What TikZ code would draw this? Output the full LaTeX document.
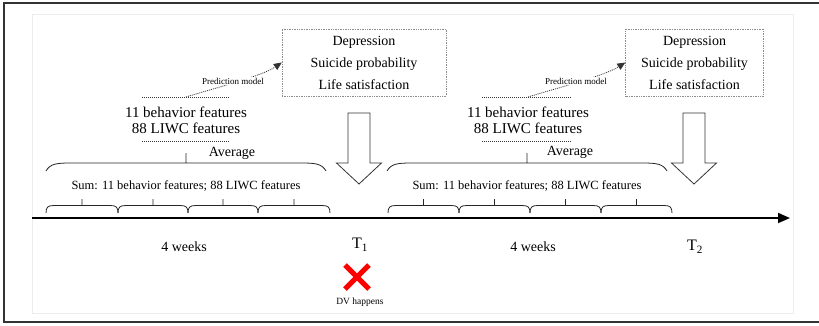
\documentclass[tikz,border=0pt]{standalone}
\usepackage{fontspec}
\setmainfont{Liberation Serif}
\usetikzlibrary{shapes.misc,arrows.meta}
\begin{document}
\begin{tikzpicture}[x=1pt,y=-1pt,
  brc/.style={black!85, line width=0.8pt},
  dots/.style={dash pattern=on 1pt off 1pt, black!80, line width=0.8pt},
  outbox/.style={draw, dash pattern=on 0.8pt off 0.9pt, black!45, text=black, align=center,
    minimum height=67pt, font=\fontsize{14}{22}\selectfont},
  feat/.style={align=center, font=\fontsize{15}{16}\selectfont}]
\useasboundingbox (0,0) rectangle (819,325);
\draw[line width=1.5pt, black!80] (819,3) -- (4,3) -- (4,322) -- (819,322);
\draw[black!7] (32,14) rectangle (793,313);
\coordinate (t0) at (32,218);
\coordinate (t9) at (790,218);
\draw[line width=1.8pt, -{Triangle[length=12pt,width=10pt]}] (t0) -- (t9);
\foreach \a/\b in {46/118,118/188,188/258,258/330,388/459,459/530,530/601,601/672}
  \draw[brc] (\a,213) .. controls (\a,207) and (\a+2,205.5) .. (\a+8,205.5) -- (\b-8,205.5)
    .. controls (\b-2,205.5) and (\b,207) .. (\b,213)
    (\a/2+\b/2,205.5) -- (\a/2+\b/2,199);
\foreach \a/\b in {46/326,387/667}
  \draw[brc] (\a,171) .. controls (\a+4,164) and (\a+10,163) .. (\a+24,163) -- (\b-24,163)
    .. controls (\b-10,163) and (\b-4,164) .. (\b,171)
    (\a+140,163) -- (\a+140,153);
\node[font=\fontsize{12.5}{14}\selectfont] (s1) at (186,186) {Sum: 11 behavior features; 88 LIWC features};
\node[font=\fontsize{12.5}{14}\selectfont] (s2) at (527,186) {Sum: 11 behavior features; 88 LIWC features};
\node[font=\fontsize{14}{16}\selectfont] (a1) at (232,153) {Average};
\node[font=\fontsize{14}{16}\selectfont] (a2) at (570,152) {Average};
\node[feat] (f1) at (186,120) {11 behavior features\\88 LIWC features};
\node[feat] (f2) at (528,120) {11 behavior features\\88 LIWC features};
\draw[dots] (142,97) -- (230,97);
\draw[dots] (142,141) -- (230,141);
\draw[dots] (482,97) -- (572,97);
\draw[dots] (482,141) -- (572,141);
\coordinate (f1t) at (186,97);
\coordinate (f2t) at (528,97);
\node[outbox, minimum width=164pt] (o1) at (364,62.5) {Depression\\Suicide probability\\Life satisfaction};
\node[outbox, minimum width=138pt] (o2) at (694.5,62.5) {Depression\\Suicide probability\\Life satisfaction};
\draw[dots, -{Triangle[length=8pt,width=7pt]}] (f1t) .. controls (215,88) and (262,76) .. (o1.west);
\draw[dots, -{Triangle[length=8pt,width=7pt]}] (f2t) .. controls (557,88) and (604,76) .. (o2.west);
\node[fill=white, inner sep=1pt, font=\fontsize{9}{10}\selectfont] (p1) at (233,81) {Prediction model};
\node[fill=white, inner sep=1pt, font=\fontsize{9}{10}\selectfont] (p2) at (576,81) {Prediction model};
\foreach \c in {359,694}
  \draw[black!80, line width=0.8pt] (\c-11,113) -- (\c+11,113) -- (\c+11,163) -- (\c+22.5,163)
    -- (\c,184) -- (\c-22.5,163) -- (\c-11,163) -- cycle;
\node[font=\fontsize{14}{16}\selectfont] (w1) at (184,247) {4 weeks};
\node[font=\fontsize{14}{16}\selectfont] (w2) at (533,247) {4 weeks};
\node[font=\fontsize{16}{18}\selectfont] (tt1) at (360,245) {T\textsubscript{1}};
\node[font=\fontsize{16}{18}\selectfont] (tt2) at (695,247) {T\textsubscript{2}};
\node[cross out, draw=red, line width=5pt, minimum size=19pt, inner sep=0pt] (x1) at (357,277) {};
\node[font=\fontsize{9.5}{11}\selectfont] (dv) at (360,302) {DV happens};
\end{tikzpicture}
\end{document}
